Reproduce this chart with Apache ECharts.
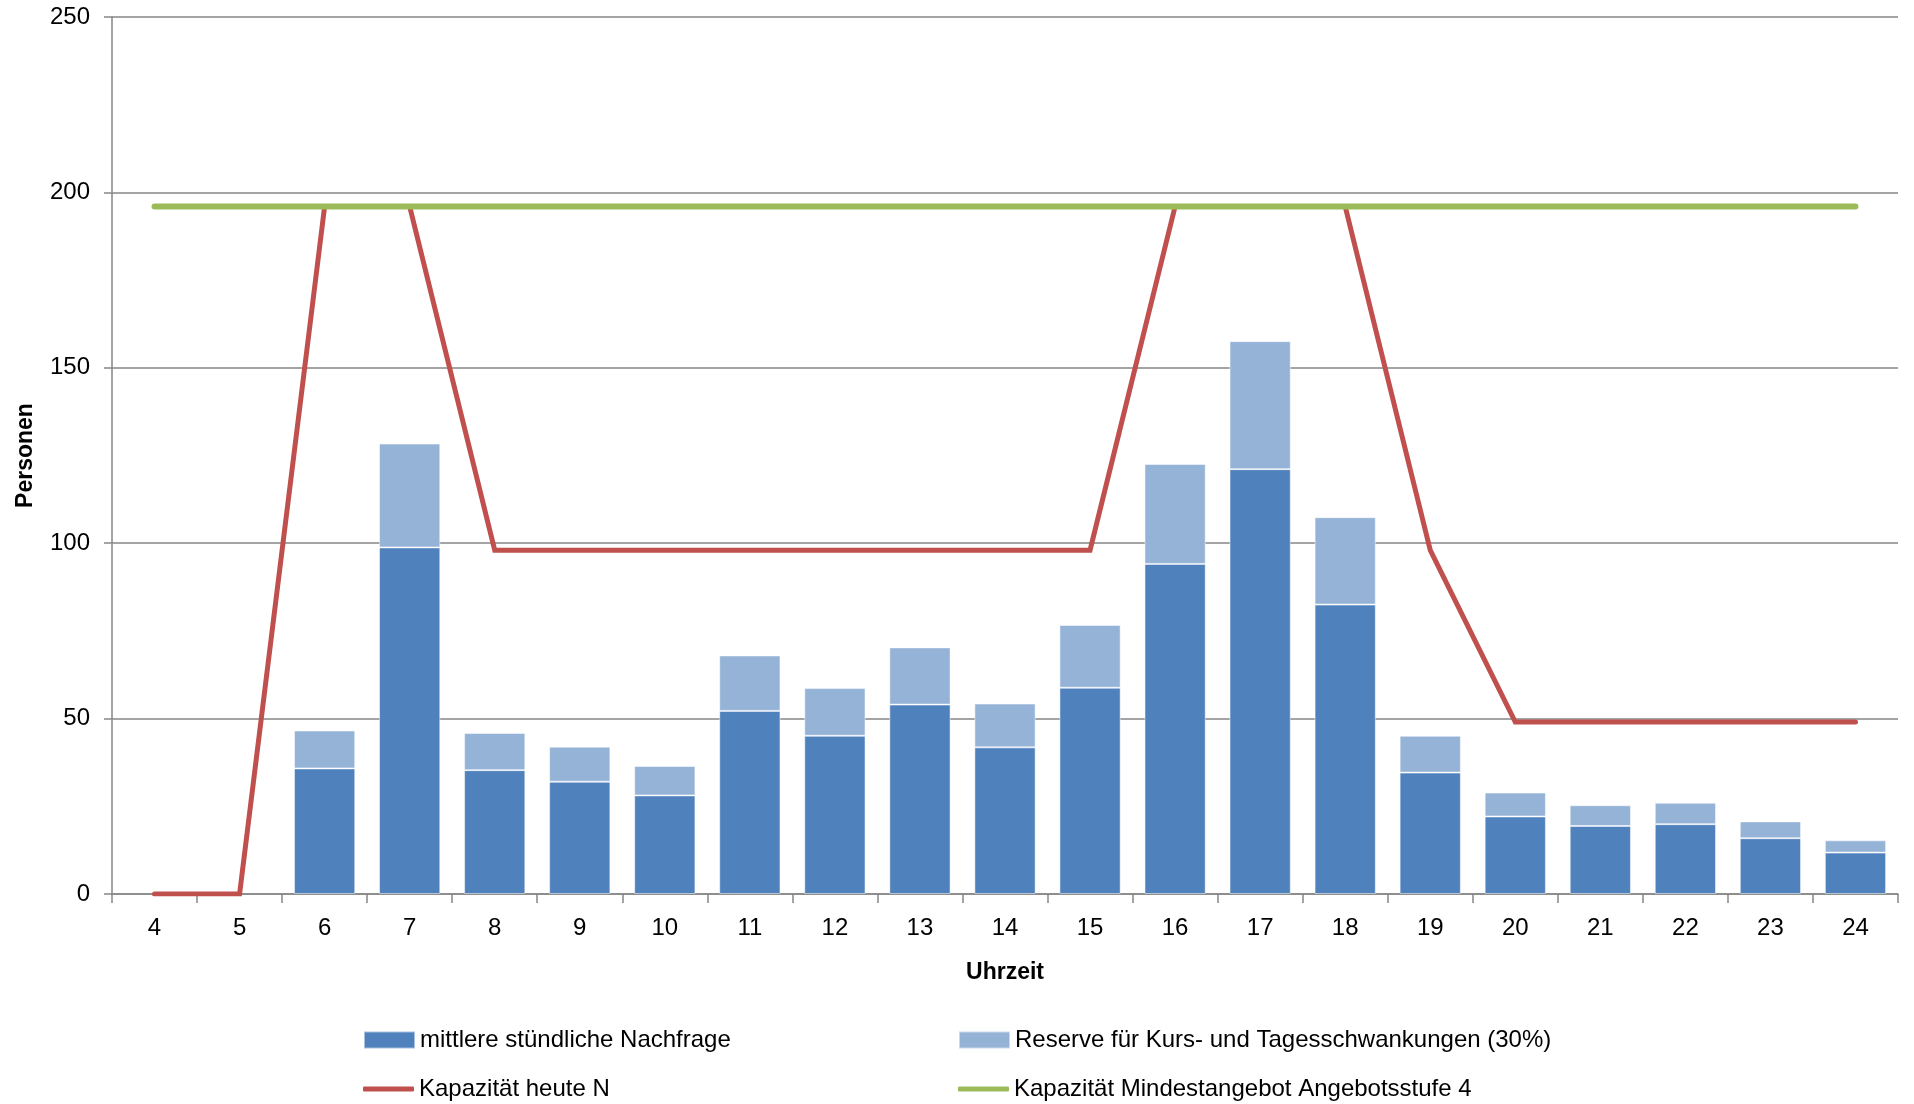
<!DOCTYPE html>
<html>
<head>
<meta charset="utf-8">
<script src="https://cdn.jsdelivr.net/npm/echarts@6/dist/echarts.min.js"></script>
<style>
html,body{margin:0;padding:0;background:#fff;}
#chart{width:1914px;height:1104px;}
</style>
</head>
<body>
<div id="chart"></div>
<script>
const hours = ['4','5','6','7','8','9','10','11','12','13','14','15','16','17','18','19','20','21','22','23','24'];
const demand = [null,null,35.8,98.8,35.3,32.0,28.1,52.2,45.1,54.0,41.8,58.8,94.1,121.1,82.5,34.6,22.1,19.4,19.9,15.9,11.8];
const reserve = [null,null,10.8,29.6,10.6,10.0,8.4,15.8,13.6,16.3,12.5,17.9,28.5,36.5,24.9,10.5,6.8,5.9,6.1,4.8,3.5];
const capacityToday = [0,0,196,196,98,98,98,98,98,98,98,98,196,196,196,98,49,49,49,49,49];
const capacityMin = [196,196,196,196,196,196,196,196,196,196,196,196,196,196,196,196,196,196,196,196,196];
const yTicks = [0,50,100,150,200,250];

const names = ['mittlere stündliche Nachfrage','Reserve für Kurs- und Tagesschwankungen (30%)','Kapazität heute N','Kapazität Mindestangebot Angebotsstufe 4'];
const FONT = 'Liberation Sans';
const chart = echarts.init(document.getElementById('chart'));
const legendText = {fontFamily: FONT, fontSize: 24, color: '#000'};
chart.setOption({
  animation: false,
  backgroundColor: '#fff',
  textStyle: {fontFamily: FONT},
  grid: {left: 112, right: 16, top: 17, bottom: 210, containLabel: false, outerBoundsMode: 'none'},
  legend: [
    {data: [names[0]], left: 363, top: 1028, padding: 0, icon: 'rect', itemWidth: 51, itemHeight: 17, textStyle: legendText},
    {data: [names[1]], left: 958, top: 1028, padding: 0, icon: 'rect', itemWidth: 51, itemHeight: 17, textStyle: legendText},
    {data: [names[2]], left: 363, top: 1077, padding: 0, icon: 'roundRect', itemWidth: 51, itemHeight: 5, textStyle: legendText},
    {data: [names[3]], left: 958, top: 1077, padding: 0, icon: 'roundRect', itemWidth: 51, itemHeight: 5, textStyle: legendText}
  ],
  xAxis: {
    type: 'category',
    data: hours,
    boundaryGap: true,
    name: 'Uhrzeit',
    nameLocation: 'middle',
    nameGap: 67,
    nameTextStyle: {fontFamily: FONT, fontSize: 23, fontWeight: 'bold', color: '#000'},
    axisLine: {show: true, lineStyle: {color: '#868686', width: 1.5}},
    axisTick: {show: true, alignWithLabel: false, length: 9, lineStyle: {color: '#868686', width: 1.5}},
    axisLabel: {fontFamily: FONT, fontSize: 24, color: '#000', margin: 22, interval: 0},
    splitLine: {show: false}
  },
  yAxis: {
    type: 'value',
    min: 0, max: 250, interval: 50,
    name: 'Personen',
    nameLocation: 'middle',
    nameGap: 75,
    nameRotate: 90,
    nameTextStyle: {fontFamily: FONT, fontSize: 23, fontWeight: 'bold', color: '#000'},
    axisLine: {show: true, lineStyle: {color: '#868686', width: 1.5}},
    axisTick: {show: true, length: 8, lineStyle: {color: '#868686', width: 1.5}},
    axisLabel: {fontFamily: FONT, fontSize: 24, color: '#000', margin: 22,
      formatter: v => yTicks.indexOf(v) >= 0 ? String(v) : ''},
    splitLine: {show: true, lineStyle: {color: '#868686', width: 1.5}}
  },
  series: [
    {name: names[0], type: 'bar', stack: 'a', data: demand, barCategoryGap: '28%',
      itemStyle: {color: '#4F81BD', borderColor: 'rgba(255,255,255,0.5)', borderWidth: 1}},
    {name: names[1], type: 'bar', stack: 'a', data: reserve, barCategoryGap: '28%',
      itemStyle: {color: '#95B3D7', borderColor: 'rgba(255,255,255,0.5)', borderWidth: 1}},
    {name: names[2], type: 'line', data: capacityToday, symbol: 'none', showSymbol: false,
      itemStyle: {color: '#C0504D'},
      lineStyle: {color: '#C0504D', width: 5, cap: 'round', join: 'miter'}, z: 3},
    {name: names[3], type: 'line', data: capacityMin, symbol: 'none', showSymbol: false,
      itemStyle: {color: '#9BBB59'},
      lineStyle: {color: '#9BBB59', width: 6, cap: 'round'}, z: 4}
  ]
});
</script>
</body>
</html>
